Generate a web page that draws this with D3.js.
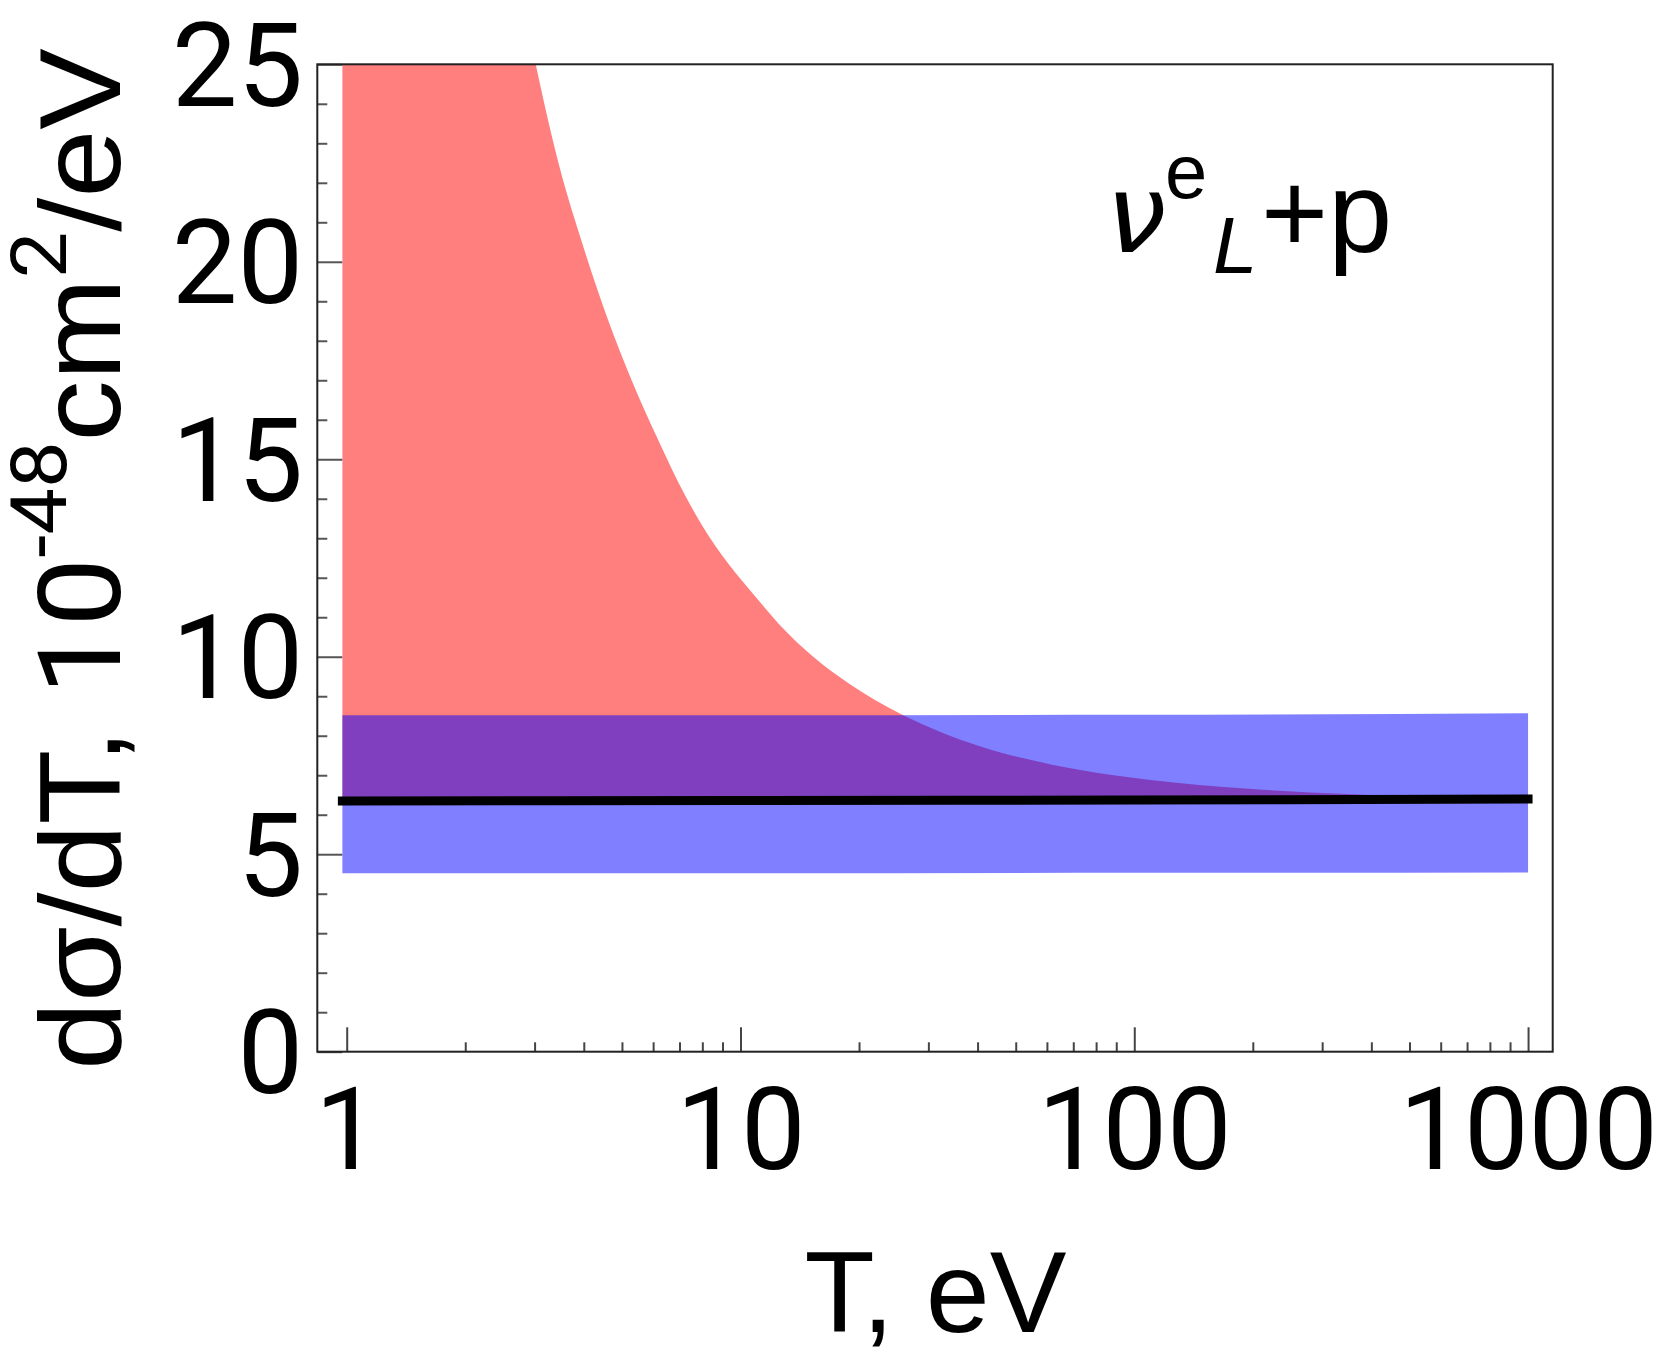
<!DOCTYPE html>
<html>
<head>
<meta charset="utf-8">
<script src="https://cdn.jsdelivr.net/npm/d3@7"></script>
<style>
  html, body { margin: 0; padding: 0; background: #fff; }
  svg { display: block; }
  text { font-family: "Liberation Sans", Arial, sans-serif; fill: #000; }
  .num { font-family: Roboto, "Liberation Sans", Arial, sans-serif; }
</style>
</head>
<body>
<svg id="chart" width="1661" height="1361"></svg>
<script>
// ---- data ----
const bandT      = [0.975, 10, 100, 1000];
const centralVal = [6.35, 6.36, 6.37, 6.40];
const blueLower  = [4.52, 4.52, 4.53, 4.54];
const blueUpper  = [8.52, 8.52, 8.53, 8.57];

// upper edge of the red band (first value lies above the frame and is clipped)
const redT     = [0.975, 3.02, 3.45, 3.94, 4.62, 5.29, 6.14, 6.95, 8.02, 9.36, 10.73, 12.6, 15.3, 18.8, 21.9, 25.9, 40, 61, 73, 110, 200, 356, 600, 1000];
const redUpper = [63, 25, 22.5, 20.55, 18.5, 17.0, 15.55, 14.42, 13.30, 12.33, 11.61, 10.80, 10.0, 9.33, 8.91, 8.52, 7.75, 7.28, 7.13, 6.88, 6.65, 6.52, 6.45, 6.42];
const redLower = [6.35, 6.35, 6.35, 6.35, 6.35, 6.35, 6.35, 6.35, 6.35, 6.35, 6.36, 6.36, 6.36, 6.36, 6.36, 6.36, 6.37, 6.37, 6.37, 6.37, 6.38, 6.39, 6.39, 6.40];

const xMajorTicks = [1, 10, 100, 1000];
const xMajorLabels = ["1", "10", "100", "1000"];
const xMinorTicks = [2,3,4,5,6,7,8,9, 20,30,40,50,60,70,80,90, 200,300,400,500,600,700,800,900];
const yMajorTicks = [0, 5, 10, 15, 20, 25];
const yMinorTicks = [1,2,3,4,6,7,8,9,11,12,13,14,16,17,18,19,21,22,23,24];

// ---- layout ----
const L = 317.3, R = 1552.7, T = 64.3, B = 1051.7;
const svg = d3.select("#chart");

const x = d3.scaleLog().domain([0.842, 1155]).range([L, R]);
const y = d3.scaleLinear().domain([0, 25]).range([B, T]);

svg.append("defs").append("clipPath").attr("id", "plotclip")
  .append("rect").attr("x", L).attr("y", T).attr("width", R - L).attr("height", B - T);

const plot = svg.append("g").attr("clip-path", "url(#plotclip)");

// red band
const redData = redT.map((t, i) => ({t, lo: redLower[i], hi: redUpper[i]}));
plot.append("path").datum(redData)
  .attr("fill", "rgb(255,0,0)").attr("fill-opacity", 0.5)
  .attr("d", d3.area().x(d => x(d.t)).y0(d => y(d.lo)).y1(d => y(d.hi)).curve(d3.curveMonotoneX));

// blue band
const bandData = bandT.map((t, i) => ({t, lo: blueLower[i], hi: blueUpper[i], c: centralVal[i]}));
plot.append("path").datum(bandData)
  .attr("fill", "rgb(0,0,255)").attr("fill-opacity", 0.5)
  .attr("d", d3.area().x(d => x(d.t)).y0(d => y(d.lo)).y1(d => y(d.hi)).curve(d3.curveMonotoneX));

// central black line
svg.append("path").datum(bandData)
  .attr("fill", "none").attr("stroke", "#000").attr("stroke-width", 9).attr("stroke-linecap", "square")
  .attr("d", d3.line().x(d => x(d.t)).y(d => y(d.c)).curve(d3.curveMonotoneX));

// ---- axes ----
const NUMFONT = "Roboto, 'Liberation Sans', Arial, sans-serif";
const gxMinor = svg.append("g").attr("transform", `translate(0,${B})`)
  .call(d3.axisBottom(x).tickValues(xMinorTicks).tickSize(-9.4).tickFormat(""));
const gxMajor = svg.append("g").attr("transform", `translate(0,${B})`)
  .call(d3.axisBottom(x).tickValues(xMajorTicks).tickSize(-24.4).tickFormat((d, i) => xMajorLabels[i]));
[gxMinor, gxMajor].forEach(g => {
  g.select(".domain").remove();
  g.selectAll(".tick line").attr("stroke", "#444").attr("stroke-width", 2);
});
gxMajor.selectAll(".tick text")
  .attr("y", 117.8).attr("dy", 0)
  .style("font-size", "115px").style("font-family", NUMFONT).attr("fill", "#000");

const gyMinor = svg.append("g").attr("transform", `translate(${L},0)`)
  .call(d3.axisLeft(y).tickValues(yMinorTicks).tickSize(-10).tickFormat(""));
const gyMajor = svg.append("g").attr("transform", `translate(${L},0)`)
  .call(d3.axisLeft(y).tickValues(yMajorTicks).tickSize(-25).tickPadding(14).tickFormat(d3.format("d")));
[gyMinor, gyMajor].forEach(g => {
  g.select(".domain").remove();
  g.selectAll(".tick line").attr("stroke", "#555").attr("stroke-width", 2);
});
gyMajor.selectAll(".tick text")
  .attr("dy", 0).attr("y", 41)
  .style("font-size", "117px").style("font-family", NUMFONT).attr("fill", "#000");

// frame
svg.append("rect").attr("x", L).attr("y", T).attr("width", R - L).attr("height", B - T)
  .attr("fill", "none").attr("stroke", "#222").attr("stroke-width", 2);

// ---- axis titles ----
svg.append("text").attr("x", 935.5).attr("y", 1331.7).attr("text-anchor", "middle")
  .style("font-size", "115px").text("T, eV");

const yt = svg.append("text").attr("transform", "translate(120,559) rotate(-90)")
  .attr("text-anchor", "middle").style("font-size", "115px")
  .attr("textLength", 1022).attr("lengthAdjust", "spacingAndGlyphs");
yt.append("tspan").text("dσ/dT, ");
yt.append("tspan").attr("class", "num").text("10");
yt.append("tspan").attr("class", "num").attr("dy", -54).style("font-size", "78px").text("-48");
yt.append("tspan").attr("dy", 54).text("cm");
yt.append("tspan").attr("class", "num").attr("dy", -54).style("font-size", "78px").text("2");
yt.append("tspan").attr("dy", 54).text("/eV");

// ---- process label ----
svg.append("text").attr("x", 1106).attr("y", 252).style("font-size", "108px")
  .style("font-family", "'DejaVu Sans', sans-serif").style("font-style", "italic").text("ν");
svg.append("text").attr("x", 1165).attr("y", 198).style("font-size", "76px").text("e");
svg.append("text").attr("x", 1213).attr("y", 273).style("font-size", "80px").style("font-style", "italic").text("L");
svg.append("text").attr("x", 1261).attr("y", 252).style("font-size", "115px").text("+p");
</script>
</body>
</html>
